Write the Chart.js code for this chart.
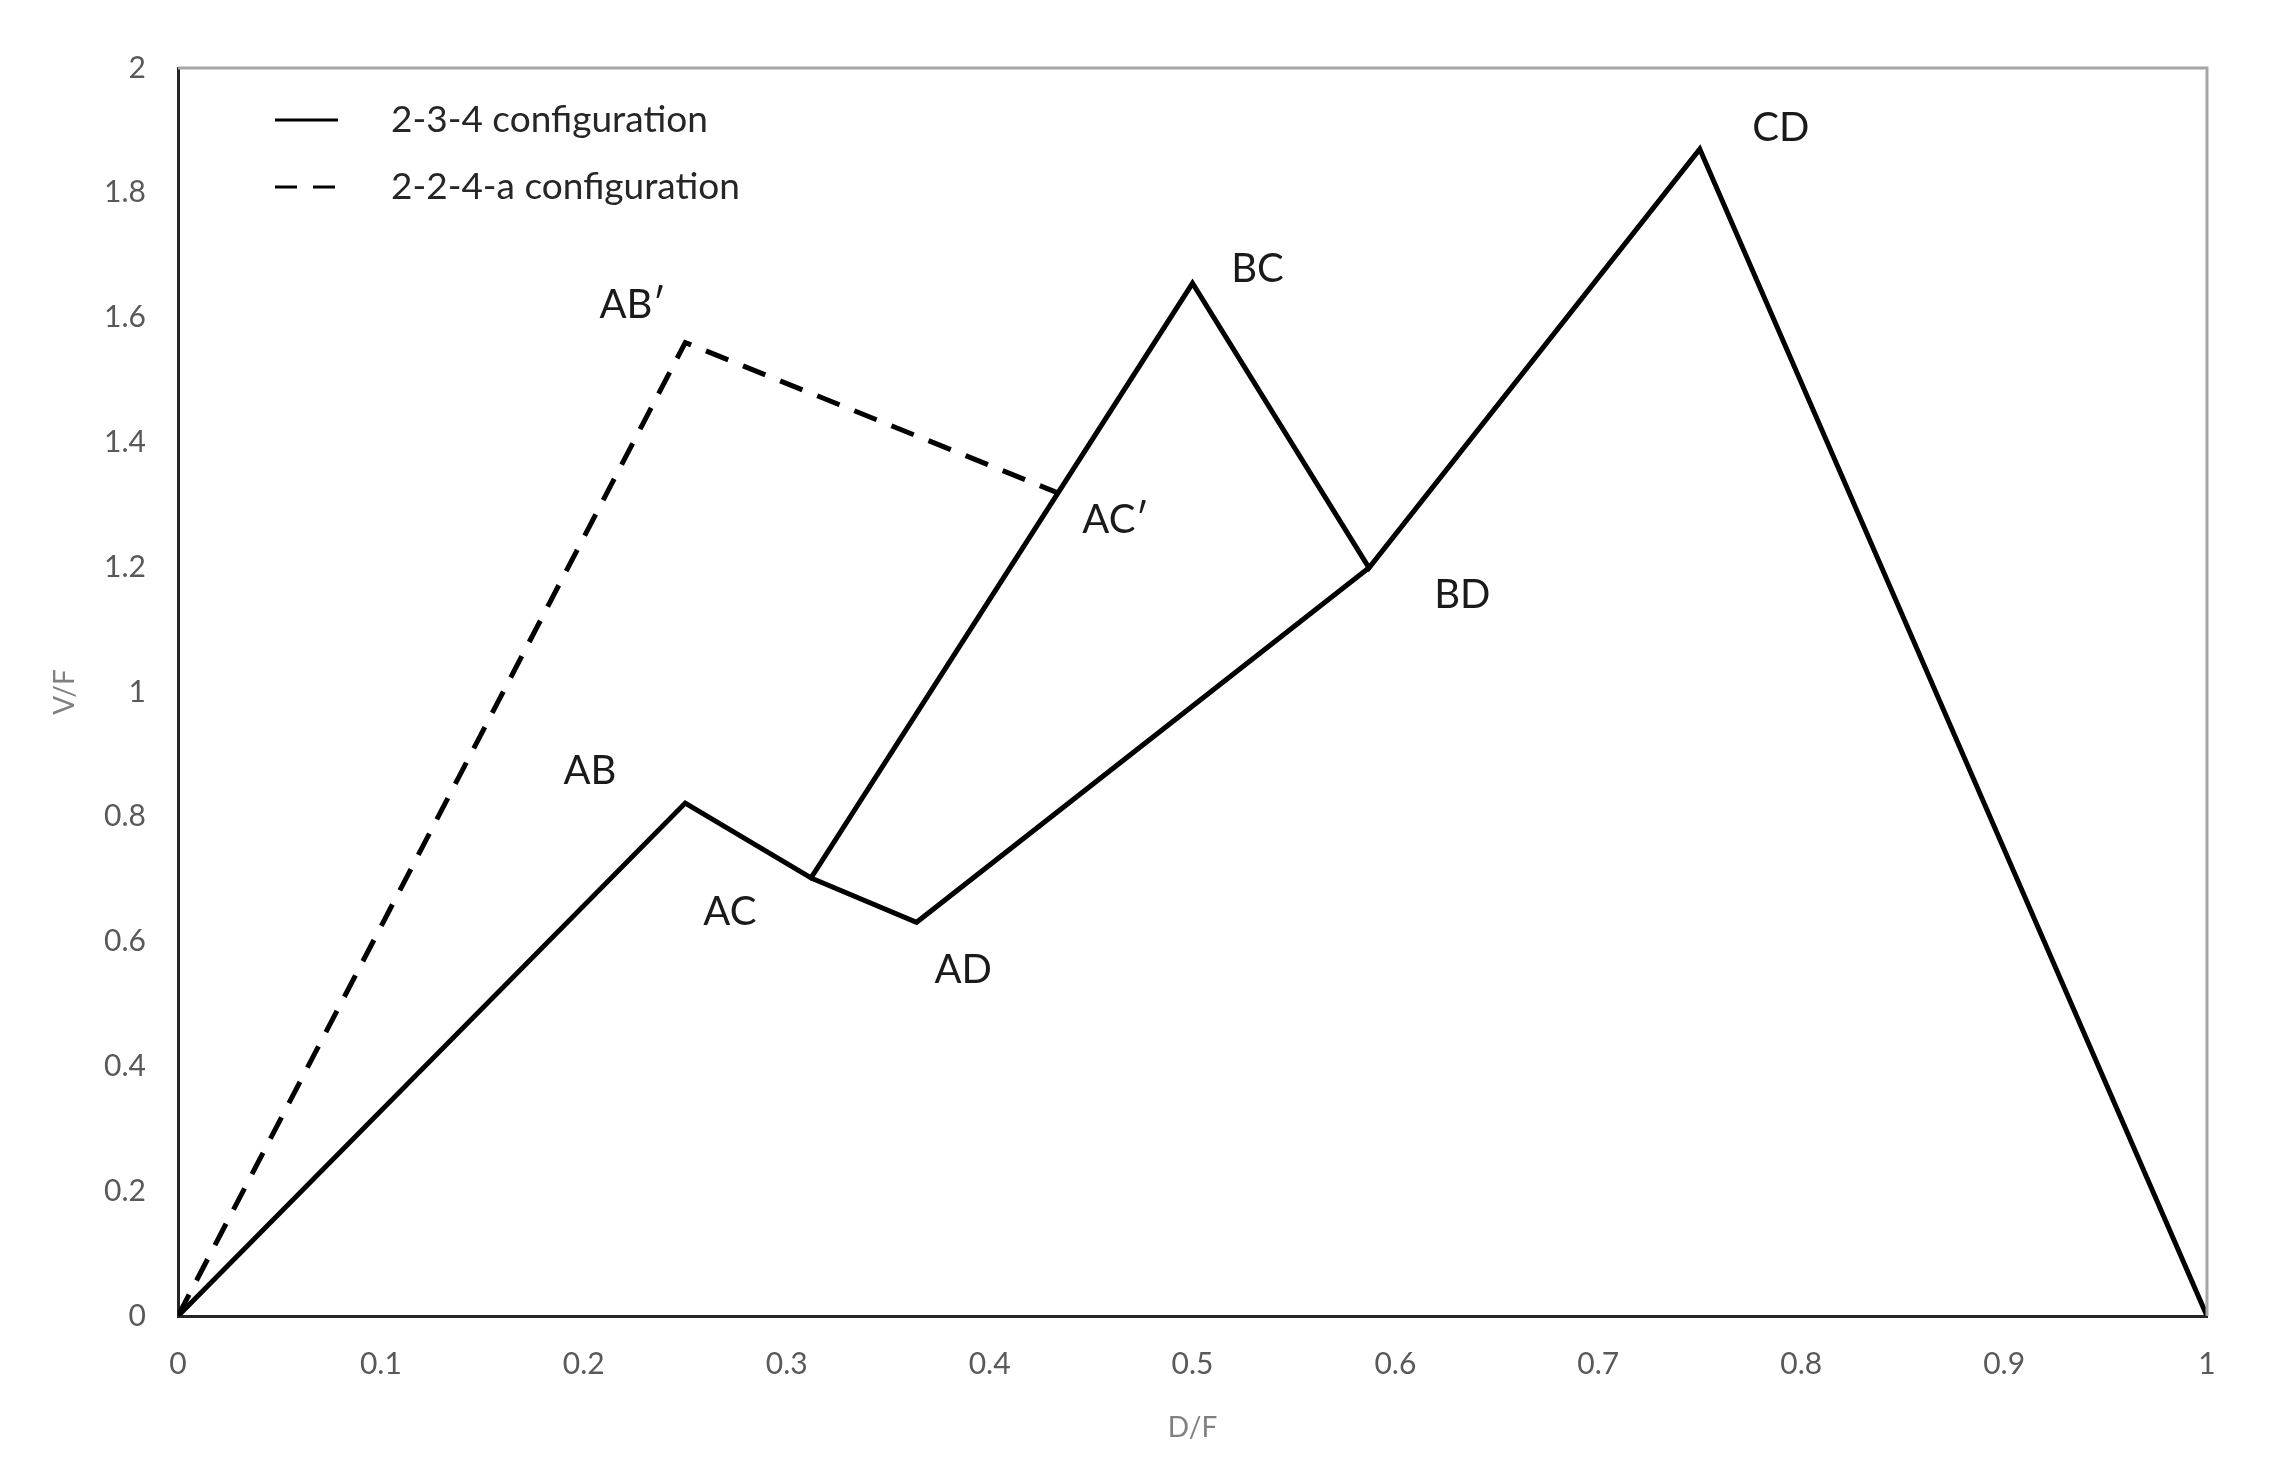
<!DOCTYPE html>
<html>
<head>
<meta charset="utf-8">
<script src="https://cdn.jsdelivr.net/npm/chart.js@4.4.1/dist/chart.umd.min.js"></script>
<style>
  html, body { margin: 0; padding: 0; background: #fff; }
  #wrap { width: 2272px; height: 1481px; }
</style>
</head>
<body>
<div id="wrap"><canvas id="chart" width="2272" height="1481"></canvas></div>
<script>
// solid path 0 -> AB -> AC -> BC -> BD -> CD -> 1
const mainX = [0, 0.25, 0.312, 0.5, 0.587, 0.75, 1];
const mainY = [0, 0.822, 0.702, 1.655, 1.199, 1.87, 0];
// solid branch AC -> AD -> BD
const branchX = [0.312, 0.364, 0.587];
const branchY = [0.702, 0.631, 1.199];
// dashed path 0 -> AB' -> AC'
const dashX = [0, 0.25, 0.433];
const dashY = [0, 1.56, 1.32];

const pointNames = ["AB\u2032", "AC\u2032", "AB", "AC", "AD", "BC", "BD", "CD"];
const nameX = [0.224, 0.462, 0.203, 0.272, 0.387, 0.532, 0.633, 0.79];
const nameY = [1.62, 1.276, 0.873, 0.647, 0.554, 1.678, 1.155, 1.904];

const legendNames = ["2-3-4 configuration", "2-2-4-a configuration"];
const xMin = 0, xMax = 1, xStep = 0.1;
const yMin = 0, yMax = 2, yStep = 0.2;

const FONT = "Lato, 'Open Sans', sans-serif";
const toPts = (xs, ys) => xs.map((x, i) => ({ x: x, y: ys[i] }));
const fmt = v => String(+Number(v).toFixed(1));

const extras = {
    id: "extras",
    afterDatasetsDraw(chart) {
        const { ctx, chartArea: a, scales: { x, y } } = chart;
        ctx.save();
        // top and right frame
        ctx.strokeStyle = "#a6a6a6";
        ctx.lineWidth = 3;
        ctx.beginPath();
        ctx.moveTo(a.left, a.top);
        ctx.lineTo(a.right, a.top);
        ctx.lineTo(a.right, a.bottom);
        ctx.stroke();

        // point names
        ctx.fillStyle = "#1a1a1a";
        ctx.font = "40px " + FONT;
        ctx.textAlign = "center";
        ctx.textBaseline = "middle";
        pointNames.forEach((t, i) => {
            ctx.fillText(t, x.getPixelForValue(nameX[i]), y.getPixelForValue(nameY[i]));
        });

        // legend inside plot
        const rows = [120, 187];
        const dashes = [[], [22, 16]];
        ctx.font = "37px " + FONT;
        ctx.textAlign = "left";
        legendNames.forEach((t, i) => {
            ctx.strokeStyle = "#000";
            ctx.lineWidth = 3;
            ctx.setLineDash(dashes[i]);
            ctx.beginPath();
            ctx.moveTo(275, rows[i]);
            ctx.lineTo(338, rows[i]);
            ctx.stroke();
            ctx.setLineDash([]);
            ctx.fillStyle = "#262626";
            ctx.fillText(t, 391, rows[i]);
        });
        ctx.restore();
    }
};

const lineStyle = { borderColor: "#000", borderWidth: 5, pointRadius: 0, showLine: true, fill: false, tension: 0 };

new Chart(document.getElementById("chart"), {
    type: "scatter",
    data: {
        datasets: [
            { label: legendNames[0], data: toPts(mainX, mainY), ...lineStyle },
            { label: legendNames[0], data: toPts(branchX, branchY), ...lineStyle },
            { label: legendNames[1], data: toPts(dashX, dashY), ...lineStyle, borderDash: [24, 16] }
        ]
    },
    options: {
        responsive: false,
        animation: false,
        layout: { padding: { top: 68, right: 65, left: 0, bottom: 0 } },
        plugins: { legend: { display: false }, tooltip: { enabled: false } },
        scales: {
            x: {
                type: "linear", min: xMin, max: xMax,
                afterFit: s => { s.height = 165; },
                ticks: { stepSize: xStep, callback: fmt, color: "#595959", font: { family: FONT, size: 30 }, padding: 30 },
                grid: { display: false, drawTicks: false },
                border: { display: true, color: "#262626", width: 3 },
                title: { display: true, text: "D/F", color: "#808080", font: { family: FONT, size: 28 }, padding: { top: 0, bottom: 36 } }
            },
            y: {
                type: "linear", min: yMin, max: yMax,
                afterFit: s => { s.width = 178; },
                ticks: { stepSize: yStep, callback: fmt, color: "#595959", font: { family: FONT, size: 30 }, padding: 32 },
                grid: { display: false, drawTicks: false },
                border: { display: true, color: "#262626", width: 3 },
                title: { display: true, text: "V/F", color: "#808080", font: { family: FONT, size: 28 }, padding: { top: 48, bottom: 0 } }
            }
        }
    },
    plugins: [extras]
});
</script>
</body>
</html>
